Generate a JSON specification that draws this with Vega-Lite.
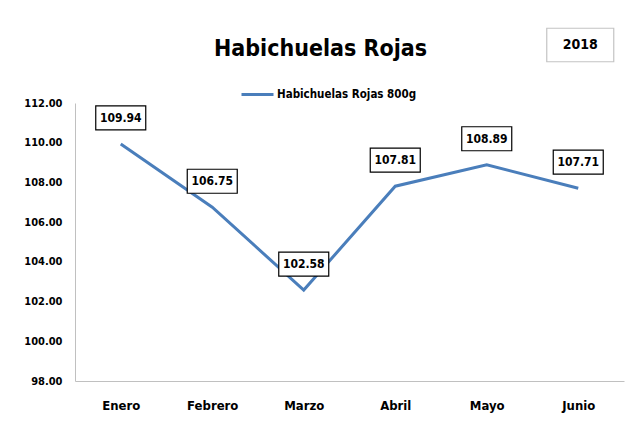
{
  "$schema": "https://vega.github.io/schema/vega-lite/v6.json",
  "width": 549,
  "height": 278,
  "autosize": {"type": "none"},
  "padding": {"left": 75, "top": 103, "right": 3, "bottom": 44},
  "background": "white",
  "config": {
    "view": {"stroke": null},
    "font": "Liberation Sans Narrow, DejaVu Sans Condensed, Arial Narrow, sans-serif"
  },
  "title": {
    "text": "Habichuelas Rojas",
    "fontSize": 23,
    "fontWeight": "bold",
    "color": "#000000",
    "anchor": "middle",
    "dx": -29,
    "offset": -35
  },
  "data": {
    "values": [
      {"mes": "Enero", "precio": 109.94},
      {"mes": "Febrero", "precio": 106.75},
      {"mes": "Marzo", "precio": 102.58},
      {"mes": "Abril", "precio": 107.81},
      {"mes": "Mayo", "precio": 108.89},
      {"mes": "Junio", "precio": 107.71}
    ]
  },
  "encoding": {
    "x": {
      "field": "mes",
      "type": "nominal",
      "sort": null,
      "axis": {
        "title": null,
        "labelAngle": 0,
        "ticks": false,
        "domainColor": "#c0c0c0",
        "labelPadding": 18,
        "labelFontSize": 13,
        "labelFontWeight": "bold",
        "labelColor": "#000000"
      }
    },
    "y": {
      "field": "precio",
      "type": "quantitative",
      "scale": {"domain": [98, 112], "nice": false, "zero": false},
      "axis": {
        "title": null,
        "values": [98, 100, 102, 104, 106, 108, 110, 112],
        "format": ".2f",
        "grid": false,
        "ticks": false,
        "domainColor": "#c0c0c0",
        "labelPadding": 13,
        "labelFontSize": 11,
        "labelFontWeight": "bold",
        "labelColor": "#000000"
      }
    }
  },
  "layer": [
    {
      "mark": {"type": "line", "strokeWidth": 3},
      "encoding": {
        "stroke": {
          "datum": "Habichuelas Rojas 800g",
          "type": "nominal",
          "scale": {"range": ["#4a7ebb"]},
          "legend": {
            "title": null,
            "orient": "none",
            "legendX": 165,
            "legendY": -26,
            "symbolType": "stroke",
            "symbolSize": 1024,
            "symbolStrokeWidth": 3,
            "labelFontSize": 11.5,
            "labelFontWeight": "bold",
            "labelColor": "#000000",
            "labelOffset": 2
          }
        }
      }
    },
    {
      "mark": {
        "type": "point",
        "shape": "M-1,-0.48H1V0.48H-1Z",
        "size": 2500,
        "filled": true,
        "fill": "white",
        "stroke": "black",
        "strokeWidth": 1.2,
        "opacity": 1,
        "yOffset": -26
      }
    },
    {
      "mark": {"type": "text", "yOffset": -26, "fontSize": 12, "fontWeight": "bold", "color": "#000000"},
      "encoding": {"text": {"field": "precio", "type": "quantitative", "format": ".2f"}}
    },
    {
      "data": {"values": [{"mes": "Junio", "precio": 114.92, "anio": "2018"}]},
      "mark": {
        "type": "point",
        "shape": "M-1,-0.5H1V0.5H-1Z",
        "size": 4489,
        "filled": true,
        "fill": "white",
        "stroke": "#c4c4c4",
        "strokeWidth": 1.2,
        "opacity": 1,
        "xOffset": 2
      }
    },
    {
      "data": {"values": [{"mes": "Junio", "precio": 114.92, "anio": "2018"}]},
      "mark": {"type": "text", "xOffset": 2, "fontSize": 14, "fontWeight": "bold", "color": "#000000"},
      "encoding": {"text": {"field": "anio", "type": "nominal"}}
    }
  ]
}
